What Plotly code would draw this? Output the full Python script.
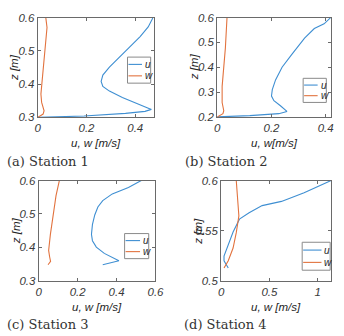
import plotly.graph_objects as go

# ---------------- data ----------------
s1_u_z = [0.300, 0.304, 0.312, 0.318, 0.324, 0.340, 0.360, 0.379, 0.393, 0.408, 0.427, 0.451, 0.480, 0.514, 0.543, 0.572, 0.600]
s1_u = [0.000, 0.190, 0.360, 0.440, 0.466, 0.413, 0.347, 0.294, 0.267, 0.260, 0.267, 0.294, 0.334, 0.380, 0.420, 0.453, 0.473]
s1_w_z = [0.300, 0.310, 0.320, 0.345, 0.370, 0.410, 0.460, 0.530, 0.570, 0.600]
s1_w = [0.000, 0.022, 0.026, 0.016, 0.013, 0.018, 0.026, 0.036, 0.038, 0.033]

s2_u_z = [0.200, 0.205, 0.213, 0.222, 0.245, 0.265, 0.284, 0.310, 0.349, 0.400, 0.452, 0.517, 0.556, 0.575, 0.600]
s2_u = [0.000, 0.120, 0.227, 0.257, 0.233, 0.209, 0.200, 0.203, 0.215, 0.239, 0.275, 0.322, 0.358, 0.394, 0.418]
s2_w_z = [0.200, 0.213, 0.225, 0.258, 0.323, 0.388, 0.478, 0.600]
s2_w = [0.000, 0.021, 0.024, 0.018, 0.018, 0.024, 0.030, 0.036]

s3_u_z = [0.348, 0.360, 0.382, 0.401, 0.420, 0.439, 0.468, 0.497, 0.521, 0.540, 0.560, 0.579, 0.600]
s3_u = [0.329, 0.412, 0.337, 0.296, 0.276, 0.271, 0.276, 0.288, 0.304, 0.329, 0.378, 0.461, 0.527]
s3_w_z = [0.348, 0.358, 0.372, 0.391, 0.439, 0.497, 0.555, 0.600]
s3_w = [0.048, 0.061, 0.056, 0.051, 0.060, 0.073, 0.089, 0.106]

s4_u_z = [0.5128, 0.5200, 0.5247, 0.5359, 0.5487, 0.5615, 0.5679, 0.5750, 0.5792, 0.5878, 0.6000]
s4_u = [0.074, 0.030, 0.030, 0.074, 0.124, 0.190, 0.290, 0.425, 0.625, 0.860, 1.140]
s4_w_z = [0.5128, 0.5200, 0.5327, 0.5480, 0.5647, 0.5808, 0.6000]
s4_w = [0.030, 0.074, 0.124, 0.157, 0.184, 0.174, 0.157]

captions = ["(a) Station 1", "(b) Station 2", "(c) Station 3", "(d) Station 4"]
x_titles = ["u, w [m/s]", "u, w[m/s]", "u, w [m/s]", "u, w [m/s]"]
y_title = "z [m]"
legend_labels = ["u", "w"]

x_ranges = [[0, 0.475], [0, 0.42], [0, 0.6], [0, 1.14]]
y_ranges = [[0.3, 0.6], [0.2, 0.6], [0.3, 0.6], [0.5, 0.6]]
x_ticks = [[0, 0.2, 0.4], [0, 0.2, 0.4], [0, 0.2, 0.4, 0.6], [0, 0.5, 1]]
x_ticktext = [["0", "0.2", "0.4"], ["0", "0.2", "0.4"], ["0", "0.2", "0.4", "0.6"], ["0", "0.5", "1"]]
y_ticks = [[0.3, 0.4, 0.5, 0.6], [0.2, 0.3, 0.4, 0.5, 0.6], [0.3, 0.4, 0.5, 0.6], [0.5, 0.55, 0.6]]
y_ticktext = [["0.3", "0.4", "0.5", "0.6"], ["0.2", "0.3", "0.4", "0.5", "0.6"], ["0.3", "0.4", "0.5", "0.6"], ["0.5", "0.55", "0.6"]]

series = [
    (s1_u, s1_u_z, s1_w, s1_w_z),
    (s2_u, s2_u_z, s2_w, s2_w_z),
    (s3_u, s3_u_z, s3_w, s3_w_z),
    (s4_u, s4_u_z, s4_w, s4_w_z),
]

# ---------------- layout (pixels) ----------------
W, H = 344, 336
# plot boxes: left, right, top, bottom in pixels
boxes = [(36, 156, 12, 115.5), (222, 340, 12, 115), (37, 158, 181, 285), (226, 340, 181, 285)]
# legend boxes: left, right, top, bottom
leg_boxes = [(129, 153, 53, 80), (311, 335, 75, 100), (126, 151, 236, 262), (310, 339, 245, 274)]
caption_pos = [(2, 161), (186, 161), (2, 330), (185, 330)]

BLUE = "#3f8fd2"
ORANGE = "#e2733f"
TXT = "#3a3a3a"
AX = "#6a6a6a"


def px(x):
    return x / W


def py(y):
    return 1 - y / H


fig = go.Figure()
layout = dict(
    width=W, height=H, margin=dict(l=0, r=0, t=0, b=0),
    paper_bgcolor="white", plot_bgcolor="white", showlegend=False,
)
shapes = []
annotations = []
tick_font = dict(family="Liberation Sans", size=11.5, color=TXT, style="italic")

for i, (u, uz, w, wz) in enumerate(series):
    n = "" if i == 0 else str(i + 1)
    xa, ya = "x" + n, "y" + n
    fig.add_trace(go.Scatter(x=u, y=uz, mode="lines", line=dict(color=BLUE, width=1.1), xaxis=xa, yaxis=ya))
    fig.add_trace(go.Scatter(x=w, y=wz, mode="lines", line=dict(color=ORANGE, width=1.1), xaxis=xa, yaxis=ya))
    l, r, t, b = boxes[i]
    layout["xaxis" + n] = dict(
        domain=[px(l), px(r)], range=x_ranges[i], anchor=ya,
        tickvals=x_ticks[i], ticktext=x_ticktext[i], tickfont=tick_font,
        ticks="inside", ticklen=3, tickcolor=AX, showline=True, linecolor=AX, linewidth=1,
        mirror="ticks", showgrid=False, zeroline=False, fixedrange=True,
    )
    layout["yaxis" + n] = dict(
        domain=[py(b), py(t)], range=y_ranges[i], anchor=xa,
        tickvals=y_ticks[i], ticktext=y_ticktext[i], tickfont=tick_font,
        ticks="inside", ticklen=3, tickcolor=AX, showline=True, linecolor=AX, linewidth=1,
        mirror="ticks", showgrid=False, zeroline=False, fixedrange=True,
    )
    # axis titles
    annotations.append(dict(
        text=x_titles[i], xref="paper", yref="paper", x=px((l + r) / 2), y=py(b + 27),
        showarrow=False, xanchor="center", yanchor="middle",
        font=dict(family="Liberation Sans", size=11.5, color="#262626", style="italic"),
    ))
    annotations.append(dict(
        text=y_title, xref="paper", yref="paper", x=px(l - 24), y=py((t + b) / 2),
        showarrow=False, xanchor="center", yanchor="middle", textangle=-90,
        font=dict(family="Liberation Sans", size=11.5, color="#262626", style="italic"),
    ))
    # caption
    cx, cy = caption_pos[i]
    annotations.append(dict(
        text=captions[i], xref="paper", yref="paper", x=px(cx), y=py(cy),
        showarrow=False, xanchor="left", yanchor="middle",
        font=dict(family="DejaVu Serif", size=13, color="#333333"),
    ))
    # legend box
    ll, lr, lt, lb = leg_boxes[i]
    shapes.append(dict(type="rect", xref="paper", yref="paper",
                       x0=px(ll), x1=px(lr), y0=py(lb), y1=py(lt),
                       line=dict(color="#8a8a8a", width=1), fillcolor="white"))
    rows = [lt + (lb - lt) * 0.28, lt + (lb - lt) * 0.72]
    for j, (lab, col) in enumerate(zip(legend_labels, [BLUE, ORANGE])):
        shapes.append(dict(type="line", xref="paper", yref="paper",
                           x0=px(ll + 1), x1=px(lr - 9), y0=py(rows[j]), y1=py(rows[j]),
                           line=dict(color=col, width=1.1)))
        annotations.append(dict(
            text=lab, xref="paper", yref="paper", x=px(lr - 8), y=py(rows[j]),
            showarrow=False, xanchor="left", yanchor="middle",
            font=dict(family="Liberation Sans", size=10, color="#262626", style="italic"),
        ))

layout["shapes"] = shapes
layout["annotations"] = annotations
fig.update_layout(**layout)
fig.write_html("out.html")
